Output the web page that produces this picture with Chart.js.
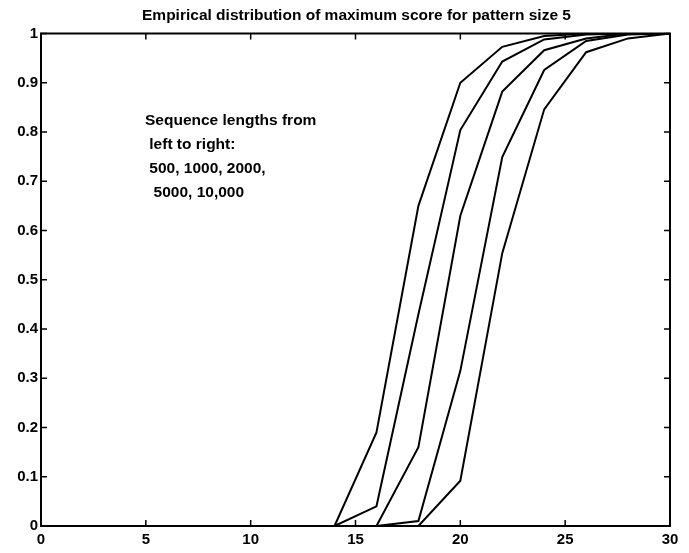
<!DOCTYPE html>
<html>
<head>
<meta charset="utf-8">
<script src="https://cdn.jsdelivr.net/npm/chart.js@4/dist/chart.umd.min.js"></script>
<style>
html,body{margin:0;padding:0;background:#fff;}
canvas{display:block;}
</style>
</head>
<body>
<canvas id="c" width="689" height="553"></canvas>
<script>
// ---- data ----
const scores = [0, 2, 4, 6, 8, 10, 12, 14, 16, 18, 20, 22, 24, 26, 28, 30];
const len500   = [0, 0, 0, 0, 0, 0, 0, 0, 0.19, 0.65, 0.90, 0.973, 0.995, 1, 1, 1];
const len1000  = [0, 0, 0, 0, 0, 0, 0, 0, 0.04, 0.43, 0.804, 0.943, 0.988, 0.998, 1, 1];
const len2000  = [0, 0, 0, 0, 0, 0, 0, 0, 0, 0.16, 0.63, 0.882, 0.966, 0.99, 1, 1];
const len5000  = [0, 0, 0, 0, 0, 0, 0, 0, 0, 0.01, 0.315, 0.749, 0.926, 0.985, 0.998, 1];
const len10000 = [0, 0, 0, 0, 0, 0, 0, 0, 0, 0, 0.092, 0.554, 0.846, 0.962, 0.99, 1];
const seriesNames = ['500', '1000', '2000', '5000', '10,000'];
const xTicks = [0, 5, 10, 15, 20, 25, 30];
const yTicks = [0, 0.1, 0.2, 0.3, 0.4, 0.5, 0.6, 0.7, 0.8, 0.9, 1];
const titleText = 'Empirical distribution of maximum score for pattern size 5';
const noteLines = ['Sequence lengths from', ' left to right:', ' 500, 1000, 2000,', '  5000, 10,000'];

// ---- styling ----
const FONT = '"Liberation Sans", Arial, Helvetica, sans-serif';
const noteX = 145, noteY0 = 125, noteDy = 24;
const titleBaseline = 20;

const toPts = ys => scores.map((x, i) => ({x: x, y: ys[i]}));
const allSeries = [len500, len1000, len2000, len5000, len10000];

const boxTicks = {
  id: 'boxTicks',
  afterDraw(chart) {
    const ctx = chart.ctx, a = chart.chartArea;
    const xs = chart.scales.x, ys = chart.scales.y;
    ctx.save();
    ctx.strokeStyle = '#000';
    ctx.lineWidth = 1.5;
    const L = 6;
    ctx.beginPath();
    xTicks.forEach(v => {
      const p = xs.getPixelForValue(v);
      ctx.moveTo(p, a.bottom); ctx.lineTo(p, a.bottom - L);
      ctx.moveTo(p, a.top); ctx.lineTo(p, a.top + L);
    });
    yTicks.forEach(v => {
      const p = ys.getPixelForValue(v);
      ctx.moveTo(a.left, p); ctx.lineTo(a.left + L, p);
      ctx.moveTo(a.right, p); ctx.lineTo(a.right - L, p);
    });
    ctx.stroke();
    ctx.lineWidth = 2;
    ctx.strokeRect(a.left, a.top, a.right - a.left, a.bottom - a.top);
    ctx.fillStyle = '#000';
    // title, centred over the plot area
    ctx.font = 'bold 15.5px ' + FONT;
    ctx.textAlign = 'center';
    ctx.textBaseline = 'alphabetic';
    ctx.fillText(titleText, (a.left + a.right) / 2 + 1, titleBaseline);
    // annotation
    ctx.textAlign = 'left';
    noteLines.forEach((t, i) => ctx.fillText(t, noteX, noteY0 + i * noteDy));
    ctx.restore();
  }
};

new Chart(document.getElementById('c'), {
  type: 'line',
  data: {
    datasets: allSeries.map((s, i) => ({
      label: seriesNames[i],
      data: toPts(s),
      borderColor: '#000',
      borderWidth: 2,
      pointRadius: 0,
      tension: 0,
      fill: false
    }))
  },
  options: {
    responsive: false,
    animation: false,
    devicePixelRatio: 1,
    layout: {padding: {left: 0, right: 19, top: 33.5, bottom: 0}},
    plugins: {
      legend: {display: false},
      tooltip: {enabled: false},
      title: {display: false}
    },
    scales: {
      x: {
        type: 'linear',
        min: 0, max: 30,
        afterFit: s => { s.height = 27; },
        afterBuildTicks: s => { s.ticks = xTicks.map(v => ({value: v})); },
        ticks: {color: '#000', font: {family: FONT, size: 15, weight: 'bold'}, padding: 5, maxRotation: 0},
        grid: {display: true, drawOnChartArea: false, drawTicks: false},
        border: {display: true, color: '#000', width: 2}
      },
      y: {
        type: 'linear',
        min: 0, max: 1,
        afterFit: s => { s.width = 41; },
        afterBuildTicks: s => { s.ticks = yTicks.map(v => ({value: v})); },
        ticks: {color: '#000', font: {family: FONT, size: 15, weight: 'bold'}, padding: 3,
                callback: v => String(Math.round(v * 10) / 10)},
        grid: {display: true, drawOnChartArea: false, drawTicks: false},
        border: {display: true, color: '#000', width: 2}
      }
    }
  },
  plugins: [boxTicks]
});
</script>
</body>
</html>
